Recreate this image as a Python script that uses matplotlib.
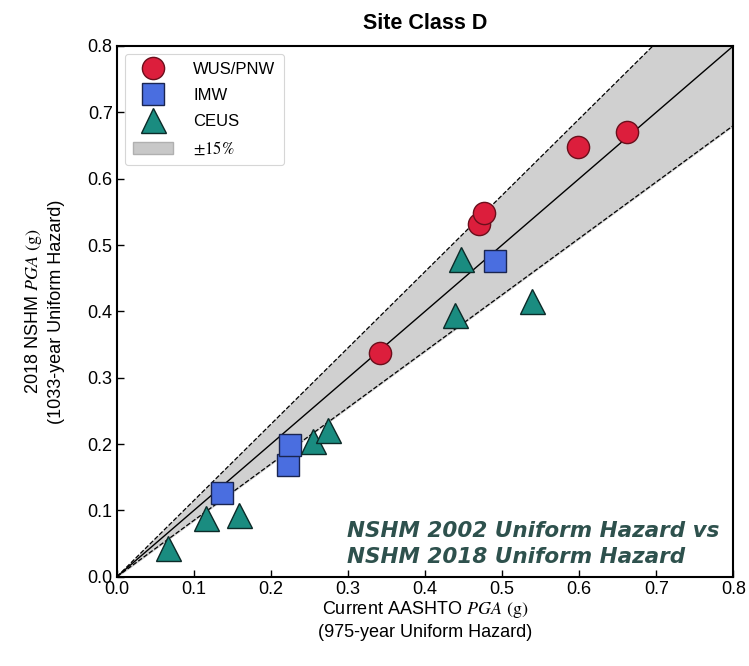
import matplotlib
matplotlib.use("Agg")
import matplotlib.pyplot as plt
import numpy as np
from matplotlib.patches import Patch
from matplotlib.lines import Line2D

plt.rcParams["font.family"] = ["Liberation Sans", "DejaVu Sans"]
plt.rcParams["mathtext.fontset"] = "stix"

# current AASHTO PGA (x) vs 2018 NSHM PGA (y), grouped by region
wus_x = [0.342, 0.470, 0.477, 0.599, 0.662]
wus_y = [0.337, 0.532, 0.548, 0.647, 0.671]

imw_x = [0.136, 0.222, 0.225, 0.491]
imw_y = [0.126, 0.169, 0.199, 0.476]

ceus_x = [0.067, 0.116, 0.159, 0.255, 0.274, 0.439, 0.446, 0.539]
ceus_y = [0.043, 0.088, 0.093, 0.204, 0.221, 0.395, 0.479, 0.415]

band = 0.15
ticks = [0.0, 0.1, 0.2, 0.3, 0.4, 0.5, 0.6, 0.7, 0.8]

fig = plt.figure(figsize=(7.49, 6.66), dpi=100)
ax = fig.add_axes([0.156, 0.134, 0.823, 0.797])

line_x = np.array([0.0, 0.8])
ax.fill_between(line_x, line_x * (1 - band), line_x * (1 + band),
                color="#d0d0d0", zorder=1)
ax.plot(line_x, line_x * (1 + band), color="black", ls="--", lw=0.9, zorder=2)
ax.plot(line_x, line_x * (1 - band), color="black", ls="--", lw=0.9, zorder=2)
ax.plot(line_x, line_x, color="black", lw=1.0, zorder=2)

ax.plot(wus_x, wus_y, "o", ms=16, mfc="#dc1e3c", mec="#6a0f1c", mew=1.0,
        ls="none", zorder=3)
ax.plot(imw_x, imw_y, "s", ms=16, mfc="#4a6ee0", mec="#1a2550", mew=1.0,
        ls="none", zorder=3)
ax.plot(ceus_x, ceus_y, "^", ms=18, mfc="#1a8c80", mec="#0c2a28", mew=1.0,
        ls="none", zorder=3)

ax.set_xlim(0, 0.8)
ax.set_ylim(0, 0.8)
ax.set_xticks(ticks)
ax.set_yticks(ticks)
ax.set_xticklabels([f"{t:.1f}" for t in ticks], fontsize=13)
ax.set_yticklabels([f"{t:.1f}" for t in ticks], fontsize=13)
ax.tick_params(direction="in", length=5, width=1, top=False, right=False, pad=3)
for s in ax.spines.values():
    s.set_linewidth(1.5)

ax.set_title("Site Class D", fontsize=15.5, fontweight="bold", pad=12)
ax.set_xlabel("Current AASHTO $\\mathit{PGA}$ $\\mathrm{(g)}$\n(975-year Uniform Hazard)",
              fontsize=13, linespacing=1.3, labelpad=1)
ax.set_ylabel("2018 NSHM $\\mathit{PGA}$ $\\mathrm{(g)}$\n(1033-year Uniform Hazard)",
              fontsize=13, linespacing=1.3, labelpad=16)

# comparison note, one text per line so each baseline sits where intended
note_kw = dict(transform=ax.transAxes, ha="left", va="baseline", fontsize=15.5,
               fontweight="bold", fontstyle="italic", color="#2e514d",
               family=["DejaVu Sans"])
ax.text(0.373, 0.075, "NSHM 2002 Uniform Hazard vs", **note_kw)
ax.text(0.373, 0.026, "NSHM 2018 Uniform Hazard", **note_kw)

handles = [
    Line2D([], [], marker="o", ls="none", ms=16, mfc="#dc1e3c", mec="#6a0f1c"),
    Line2D([], [], marker="s", ls="none", ms=16, mfc="#4a6ee0", mec="#1a2550"),
    Line2D([], [], marker="^", ls="none", ms=18, mfc="#1a8c80", mec="#0c2a28"),
    Patch(facecolor="#c8c8c8", edgecolor="#b0b0b0"),
]
labels = ["WUS/PNW", "IMW", "CEUS", "$\\pm 15\\%$"]
leg = ax.legend(handles, labels, loc="upper left", fontsize=12, frameon=True,
                borderpad=0.5, labelspacing=0.65, handletextpad=1.2,
                handlelength=2.4, borderaxespad=0.3,
                bbox_to_anchor=(0.005, 0.995))
leg.get_frame().set_edgecolor("#cccccc")
leg.get_frame().set_linewidth(0.8)

fig.savefig("out.png", dpi=100)
